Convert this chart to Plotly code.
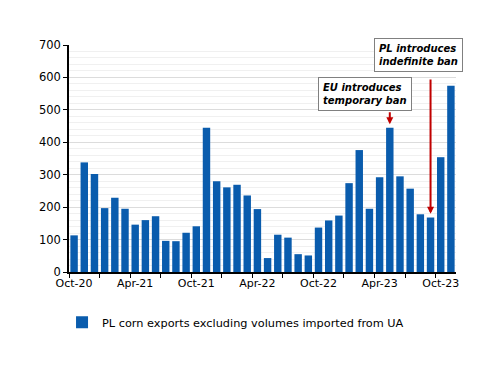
import plotly.graph_objects as go

months = ["Oct-20","Nov-20","Dec-20","Jan-21","Feb-21","Mar-21","Apr-21","May-21","Jun-21","Jul-21",
          "Aug-21","Sep-21","Oct-21","Nov-21","Dec-21","Jan-22","Feb-22","Mar-22","Apr-22","May-22",
          "Jun-22","Jul-22","Aug-22","Sep-22","Oct-22","Nov-22","Dec-22","Jan-23","Feb-23","Mar-23",
          "Apr-23","May-23","Jun-23","Jul-23","Aug-23","Sep-23","Oct-23","Nov-23"]
exports = [113, 338, 302, 197, 229, 195, 146, 160, 172, 96,
           95, 121, 141, 445, 280, 261, 269, 236, 194, 43,
           115, 106, 55, 51, 137, 159, 174, 274, 376, 195,
           292, 445, 295, 257, 178, 168, 354, 574]
label_months = ["Oct-20","Apr-21","Oct-21","Apr-22","Oct-22","Apr-23","Oct-23"]
series_name = "PL corn exports excluding volumes imported from UA"

FONT = "DejaVu Sans"
BLUE = "#0A5CAD"
RED = "#C00000"

xpos = list(range(len(months)))
label_pos = [months.index(m) for m in label_months]

fig = go.Figure()
fig.add_trace(go.Bar(x=xpos, y=exports, name=series_name, marker_color=BLUE,
                     marker_line_width=0, showlegend=True))

fig.update_layout(
    width=500, height=386,
    margin=dict(l=61, r=52, t=37, b=122, autoexpand=False),
    paper_bgcolor="white", plot_bgcolor="white",
    bargap=0.27,
    font=dict(family=FONT, size=11, color="black"),
    showlegend=True,
    legend=dict(orientation="h", x=-0.018, xanchor="left", y=-0.157, yanchor="top",
                itemwidth=30, font=dict(family=FONT, size=11.3, color="black")),
    xaxis=dict(range=[-0.5, len(months) - 0.5], tickvals=label_pos, ticktext=label_months,
               ticks="", showgrid=False, showline=True, linecolor="black", linewidth=1.5,
               zeroline=False, tickfont=dict(size=11), automargin=False,
               minor=dict(ticks="outside", tick0=-0.5, dtick=3, ticklen=4, tickcolor="black",
                          tickwidth=1, showgrid=False)),
    yaxis=dict(range=[0, 700], dtick=100, ticks="outside", ticklen=4, tickcolor="black",
               showline=True, linecolor="black", linewidth=1.5, zeroline=False,
               gridcolor="#DCDCDC", gridwidth=1, tickfont=dict(size=11.5), automargin=False,
               minor=dict(dtick=20, showgrid=True, gridcolor="#F0F0F0", gridwidth=1)),
)

# arrows
fig.add_annotation(x=months.index("May-23"), y=456, ax=months.index("May-23"), ay=497,
                   xref="x", yref="y", axref="x", ayref="y", text="", showarrow=True,
                   arrowhead=2, arrowsize=0.7, arrowwidth=2, arrowcolor=RED)
fig.add_annotation(x=months.index("Sep-23"), y=180, ax=months.index("Sep-23"), ay=598,
                   xref="x", yref="y", axref="x", ayref="y", text="", showarrow=True,
                   arrowhead=2, arrowsize=0.7, arrowwidth=2, arrowcolor=RED)

# text boxes
fig.add_annotation(x=0.765, y=0.784, xref="paper", yref="paper", showarrow=False,
                   xanchor="center", yanchor="middle",
                   text="<b><i>EU introduces<br>temporary ban</i></b>", align="left",
                   font=dict(family=FONT, size=10, color="black"),
                   bgcolor="white", bordercolor="#808080", borderwidth=1, borderpad=4)
fig.add_annotation(x=0.903, y=0.956, xref="paper", yref="paper", showarrow=False,
                   xanchor="center", yanchor="middle",
                   text="<b><i>PL introduces<br>indefinite ban</i></b>", align="left",
                   font=dict(family=FONT, size=10, color="black"),
                   bgcolor="white", bordercolor="#808080", borderwidth=1, borderpad=4)

fig.write_html("out.html")
